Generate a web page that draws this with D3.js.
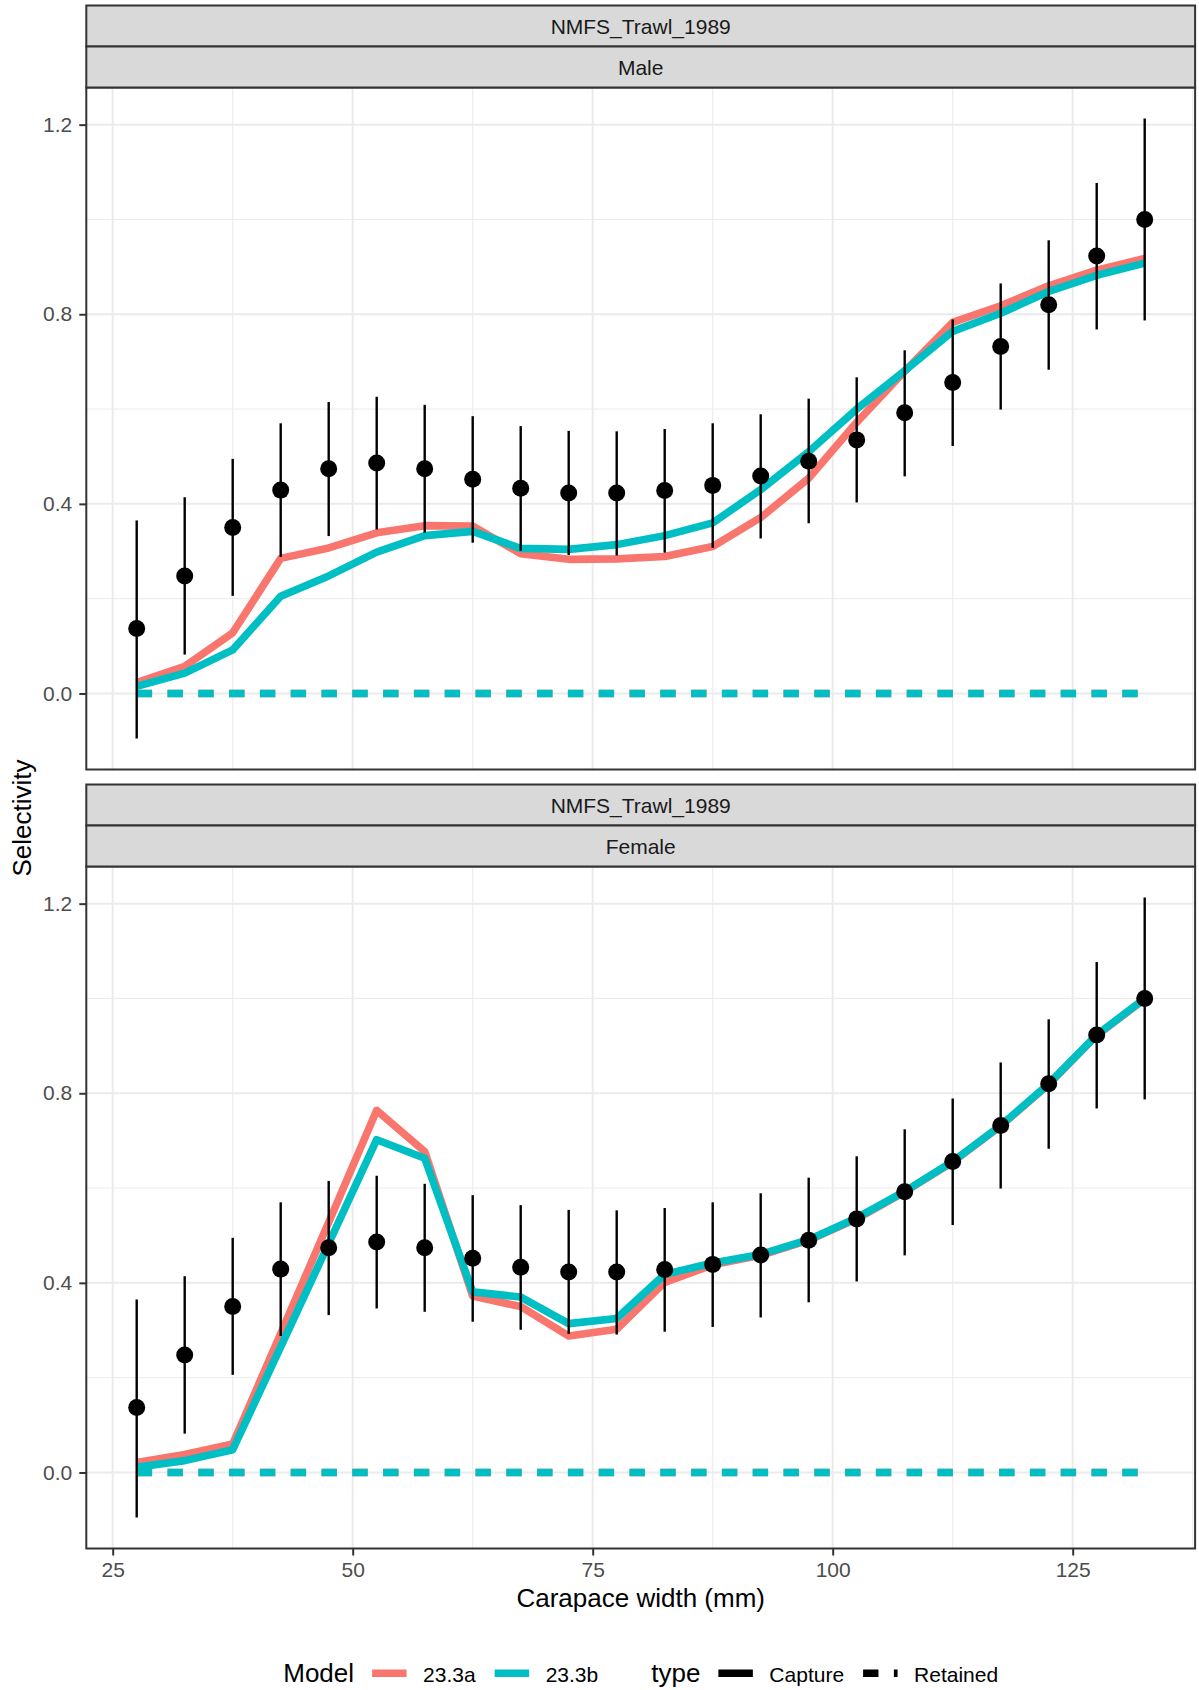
<!DOCTYPE html>
<html>
<head>
<meta charset="utf-8">
<script src="https://cdn.jsdelivr.net/npm/d3@7"></script>
<style>
  body { margin: 0; background: #ffffff; }
  svg { display: block; }
  text { font-family: "Liberation Sans", Arial, Helvetica, sans-serif; }
</style>
</head>
<body>
<svg id="chart" width="1199" height="1690"></svg>
<script>
// ---------------- DATA ----------------
const sizeBins = [27.5, 32.5, 37.5, 42.5, 47.5, 52.5, 57.5, 62.5, 67.5, 72.5, 77.5,
                  82.5, 87.5, 92.5, 97.5, 102.5, 107.5, 112.5, 117.5, 122.5, 127.5, 132.5];

// observed selectivity (same in both facets) with interval bounds
const obsValues = [0.137, 0.248, 0.350, 0.429, 0.474, 0.486, 0.474, 0.452, 0.433, 0.423, 0.423,
                   0.428, 0.439, 0.459, 0.490, 0.535, 0.592, 0.656, 0.732, 0.820, 0.923, 1.000];
const obsLower  = [-0.095, 0.082, 0.206, 0.288, 0.332, 0.346, 0.339, 0.318, 0.301, 0.292, 0.291,
                   0.297, 0.307, 0.327, 0.359, 0.403, 0.458, 0.522, 0.599, 0.683, 0.768, 0.787];
const obsUpper  = [0.365, 0.414, 0.495, 0.570, 0.615, 0.626, 0.609, 0.585, 0.564, 0.554, 0.553,
                   0.558, 0.570, 0.589, 0.622, 0.667, 0.724, 0.789, 0.865, 0.956, 1.077, 1.213];

// model capture selectivity
const maleCapture23_3a   = [0.023, 0.057, 0.128, 0.285, 0.307, 0.339, 0.354, 0.353, 0.295, 0.283, 0.284,
                            0.289, 0.310, 0.371, 0.454, 0.572, 0.680, 0.783, 0.818, 0.860, 0.893, 0.918];
const maleCapture23_3b   = [0.015, 0.043, 0.092, 0.205, 0.248, 0.298, 0.333, 0.342, 0.306, 0.304, 0.314,
                            0.333, 0.360, 0.430, 0.510, 0.600, 0.681, 0.764, 0.802, 0.848, 0.882, 0.908];
const femaleCapture23_3a = [0.021, 0.038, 0.060, 0.293, 0.528, 0.764, 0.677, 0.372, 0.350, 0.288, 0.302,
                            0.401, 0.438, 0.458, 0.490, 0.535, 0.592, 0.655, 0.731, 0.819, 0.922, 0.999];
const femaleCapture23_3b = [0.011, 0.025, 0.048, 0.265, 0.483, 0.702, 0.663, 0.381, 0.370, 0.314, 0.325,
                            0.418, 0.442, 0.460, 0.491, 0.537, 0.593, 0.656, 0.732, 0.820, 0.923, 1.000];
// model retained selectivity
const retained23_3a = [0, 0, 0, 0, 0, 0, 0, 0, 0, 0, 0, 0, 0, 0, 0, 0, 0, 0, 0, 0, 0, 0];
const retained23_3b = [0, 0, 0, 0, 0, 0, 0, 0, 0, 0, 0, 0, 0, 0, 0, 0, 0, 0, 0, 0, 0, 0];

const fleetLabel = "NMFS_Trawl_1989";
const sexLabels = ["Male", "Female"];
const modelNames = ["23.3a", "23.3b"];
const typeNames = ["Capture", "Retained"];
const modelColors = ["#F8766D", "#00BFC4"];
const xTickValues = [25, 50, 75, 100, 125];
const yTickValues = [0.0, 0.4, 0.8, 1.2];
const xTitle = "Carapace width (mm)";
const yTitle = "Selectivity";

// -------------- LAYOUT --------------
const panelL = 86.3, panelR = 1195.1;
const facetTops = [5.5, 784.5];
const stripH = 41, panelH = 682;
const lineW = 7.6, dash = "15.4,15.4";
const gridCol = "#EBEBEB", borderCol = "#333333";
const smallFont = 21, bigFont = 26;

const svg = d3.select("#chart");
svg.append("rect").attr("width", 1199).attr("height", 1690).attr("fill", "#fff");

// scales
const xe = d3.extent(sizeBins);
const xpad = (xe[1] - xe[0]) * 0.05;
const x = d3.scaleLinear().domain([xe[0] - xpad, xe[1] + xpad]).range([panelL, panelR]);

const allY = [].concat(obsLower, obsUpper, maleCapture23_3a, maleCapture23_3b,
                       femaleCapture23_3a, femaleCapture23_3b, retained23_3a, retained23_3b);
const ye = d3.extent(allY);
const ypad = (ye[1] - ye[0]) * 0.05;
const yDomain = [ye[0] - ypad, ye[1] + ypad];

// minor breaks like ggplot
function minorBreaks(major, dom) {
  const step = major[1] - major[0];
  const ext = [major[0] - step].concat(major, [major[major.length - 1] + step]);
  const out = [];
  for (let i = 0; i < ext.length - 1; i++) {
    const m = (ext[i] + ext[i + 1]) / 2;
    if (m >= dom[0] && m <= dom[1]) out.push(m);
  }
  return out;
}

const facets = [
  { sex: sexLabels[0], a: maleCapture23_3a, b: maleCapture23_3b },
  { sex: sexLabels[1], a: femaleCapture23_3a, b: femaleCapture23_3b }
];

const lineGen = (yS) => d3.line().x(d => x(d[0])).y(d => yS(d[1]));

facets.forEach((f, fi) => {
  const top = facetTops[fi];
  const pTop = top + 2 * stripH;
  const pBot = pTop + panelH;
  const y = d3.scaleLinear().domain(yDomain).range([pBot, pTop]);
  const g = svg.append("g");

  // panel background
  g.append("rect").attr("x", panelL).attr("y", pTop).attr("width", panelR - panelL)
    .attr("height", panelH).attr("fill", "#fff");

  // minor grid
  minorBreaks(xTickValues, x.domain()).forEach(v => {
    g.append("line").attr("x1", x(v)).attr("x2", x(v)).attr("y1", pTop).attr("y2", pBot)
      .attr("stroke", gridCol).attr("stroke-width", 1);
  });
  minorBreaks(yTickValues, yDomain).forEach(v => {
    g.append("line").attr("x1", panelL).attr("x2", panelR).attr("y1", y(v)).attr("y2", y(v))
      .attr("stroke", gridCol).attr("stroke-width", 1);
  });
  // major grid
  xTickValues.forEach(v => {
    g.append("line").attr("x1", x(v)).attr("x2", x(v)).attr("y1", pTop).attr("y2", pBot)
      .attr("stroke", gridCol).attr("stroke-width", 2);
  });
  yTickValues.forEach(v => {
    g.append("line").attr("x1", panelL).attr("x2", panelR).attr("y1", y(v)).attr("y2", y(v))
      .attr("stroke", gridCol).attr("stroke-width", 2);
  });

  const lg = lineGen(y);
  const series = [
    { vals: f.a, color: modelColors[0], dashed: false },
    { vals: retained23_3a, color: modelColors[0], dashed: true },
    { vals: f.b, color: modelColors[1], dashed: false },
    { vals: retained23_3b, color: modelColors[1], dashed: true }
  ];
  series.forEach(s => {
    g.append("path")
      .datum(sizeBins.map((b, i) => [b, s.vals[i]]))
      .attr("d", lg)
      .attr("fill", "none")
      .attr("stroke", s.color)
      .attr("stroke-width", lineW)
      .attr("stroke-linejoin", "round")
      .attr("stroke-linecap", "butt")
      .attr("stroke-dasharray", s.dashed ? dash : null);
  });

  // point ranges
  const pr = g.append("g");
  sizeBins.forEach((b, i) => {
    pr.append("line").attr("x1", x(b)).attr("x2", x(b))
      .attr("y1", y(obsLower[i])).attr("y2", y(obsUpper[i]))
      .attr("stroke", "#000").attr("stroke-width", 2.4);
  });
  sizeBins.forEach((b, i) => {
    pr.append("circle").attr("cx", x(b)).attr("cy", y(obsValues[i])).attr("r", 8.5).attr("fill", "#000");
  });

  // panel border
  g.append("rect").attr("x", panelL).attr("y", pTop).attr("width", panelR - panelL)
    .attr("height", panelH).attr("fill", "none").attr("stroke", borderCol).attr("stroke-width", 2);

  // strips
  [fleetLabel, f.sex].forEach((lab, si) => {
    const sy = top + si * stripH;
    g.append("rect").attr("x", panelL).attr("y", sy).attr("width", panelR - panelL)
      .attr("height", stripH).attr("fill", "#D9D9D9").attr("stroke", borderCol).attr("stroke-width", 2);
    g.append("text").attr("x", (panelL + panelR) / 2).attr("y", sy + stripH / 2)
      .attr("dy", "0.36em").attr("text-anchor", "middle")
      .attr("font-size", smallFont).attr("fill", "#1A1A1A").text(lab);
  });

  // y axis
  const yAxis = g.append("g").attr("transform", `translate(${panelL},0)`)
    .call(d3.axisLeft(y).tickValues(yTickValues).tickFormat(d3.format(".1f"))
      .tickSize(7).tickPadding(7));
  yAxis.select(".domain").remove();
  yAxis.selectAll(".tick line").attr("stroke", borderCol).attr("stroke-width", 2);
  yAxis.selectAll(".tick text").attr("fill", "#4D4D4D").attr("font-size", smallFont)
    .attr("font-family", null);

  // x axis only on last facet
  if (fi === facets.length - 1) {
    const xAxis = g.append("g").attr("transform", `translate(0,${pBot})`)
      .call(d3.axisBottom(x).tickValues(xTickValues).tickFormat(d3.format("d"))
        .tickSize(7).tickPadding(7));
    xAxis.select(".domain").remove();
    xAxis.selectAll(".tick line").attr("stroke", borderCol).attr("stroke-width", 2);
    xAxis.selectAll(".tick text").attr("fill", "#4D4D4D").attr("font-size", smallFont)
      .attr("font-family", null);
  }
});

// axis titles
const firstPanelTop = facetTops[0] + 2 * stripH;
const lastPanelBot = facetTops[1] + 2 * stripH + panelH;
svg.append("text").attr("x", (panelL + panelR) / 2).attr("y", 1607)
  .attr("text-anchor", "middle").attr("font-size", bigFont).attr("fill", "#000").text(xTitle);
svg.append("text")
  .attr("transform", `translate(30.5,${(firstPanelTop + lastPanelBot) / 2}) rotate(-90)`)
  .attr("text-anchor", "middle").attr("font-size", bigFont).attr("fill", "#000").text(yTitle);

// -------------- LEGEND --------------
const legY = 1673.3;
const keyW = 34.5;
const leg = svg.append("g");
const items = [];
items.push({ kind: "title", text: "Model" });
modelNames.forEach((m, i) => items.push({ kind: "key", color: modelColors[i], dashed: false, text: m }));
items.push({ kind: "sep" });
items.push({ kind: "title", text: "type" });
typeNames.forEach((t, i) => items.push({ kind: "key", color: "#000", dashed: i === 1, text: t }));

function measure(text, size) {
  const t = leg.append("text").attr("font-size", size).text(text);
  const w = t.node().getComputedTextLength();
  t.remove();
  return w;
}
let cursor = 0;
const placed = [];
items.forEach((it) => {
  if (it.kind === "title") {
    const w = measure(it.text, bigFont);
    placed.push({ type: "text", x: cursor, text: it.text, size: bigFont });
    cursor += w + 18;
  } else if (it.kind === "key") {
    placed.push({ type: "key", x: cursor, color: it.color, dashed: it.dashed });
    cursor += keyW + 16.5;
    const w = measure(it.text, smallFont);
    placed.push({ type: "text", x: cursor, text: it.text, size: smallFont });
    cursor += w + 19;
  } else if (it.kind === "sep") {
    cursor += 34;
  }
});
const totalW = cursor - 19;
const legX0 = (panelL + panelR) / 2 - totalW / 2;
placed.forEach(p => {
  if (p.type === "text") {
    leg.append("text").attr("x", legX0 + p.x).attr("y", 1681.8)
      .attr("font-size", p.size).attr("fill", "#000").text(p.text);
  } else {
    leg.append("line").attr("x1", legX0 + p.x).attr("x2", legX0 + p.x + keyW)
      .attr("y1", legY).attr("y2", legY)
      .attr("stroke", p.color).attr("stroke-width", lineW)
      .attr("stroke-linecap", "butt")
      .attr("stroke-dasharray", p.dashed ? dash : null);
  }
});
</script>
</body>
</html>
